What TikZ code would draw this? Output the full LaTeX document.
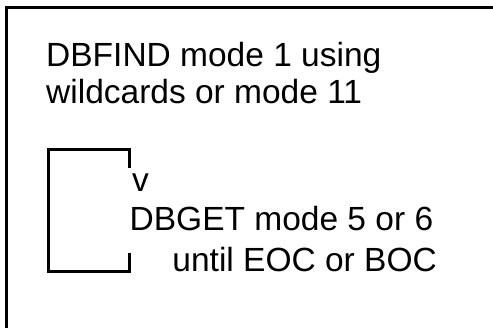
\documentclass[tikz,border=0pt]{standalone}
\usepackage{fontspec}
\setmainfont{Liberation Sans}
\begin{document}
\begin{tikzpicture}[x=1pt, y=-1pt]
\tikzset{txt/.style={inner sep=0pt, font=\fontsize{33.5}{40}\selectfont}}
\useasboundingbox (0,0) rectangle (493,328);
\clip (0,0) rectangle (493,328);
% outer frame, only its top and left edges show
\draw[line width=3pt] (6.5,340) -- (6.5,7.5) -- (510,7.5);
\node[txt, anchor=base west] (find1) at (46,67) {DBFIND mode 1 using};
\node[txt, anchor=base west] (find2) at (46,104) {wildcards or mode 11};
\node[txt, anchor=base west] (loopv) at (132,192) {v};
\node[txt, anchor=base west] (get1) at (129.5,231) {DBGET mode 5 or 6};
\node[txt, anchor=base east] (get2) at (437,272) {until EOC or BOC};
\coordinate (looptop) at (129,168);
\coordinate (loopbot) at (129,253);
\draw[line width=3pt] (looptop) -- (129,150) -- (48.5,150) -- (48.5,272) -- (129,272) -- (loopbot);
\end{tikzpicture}
\end{document}
